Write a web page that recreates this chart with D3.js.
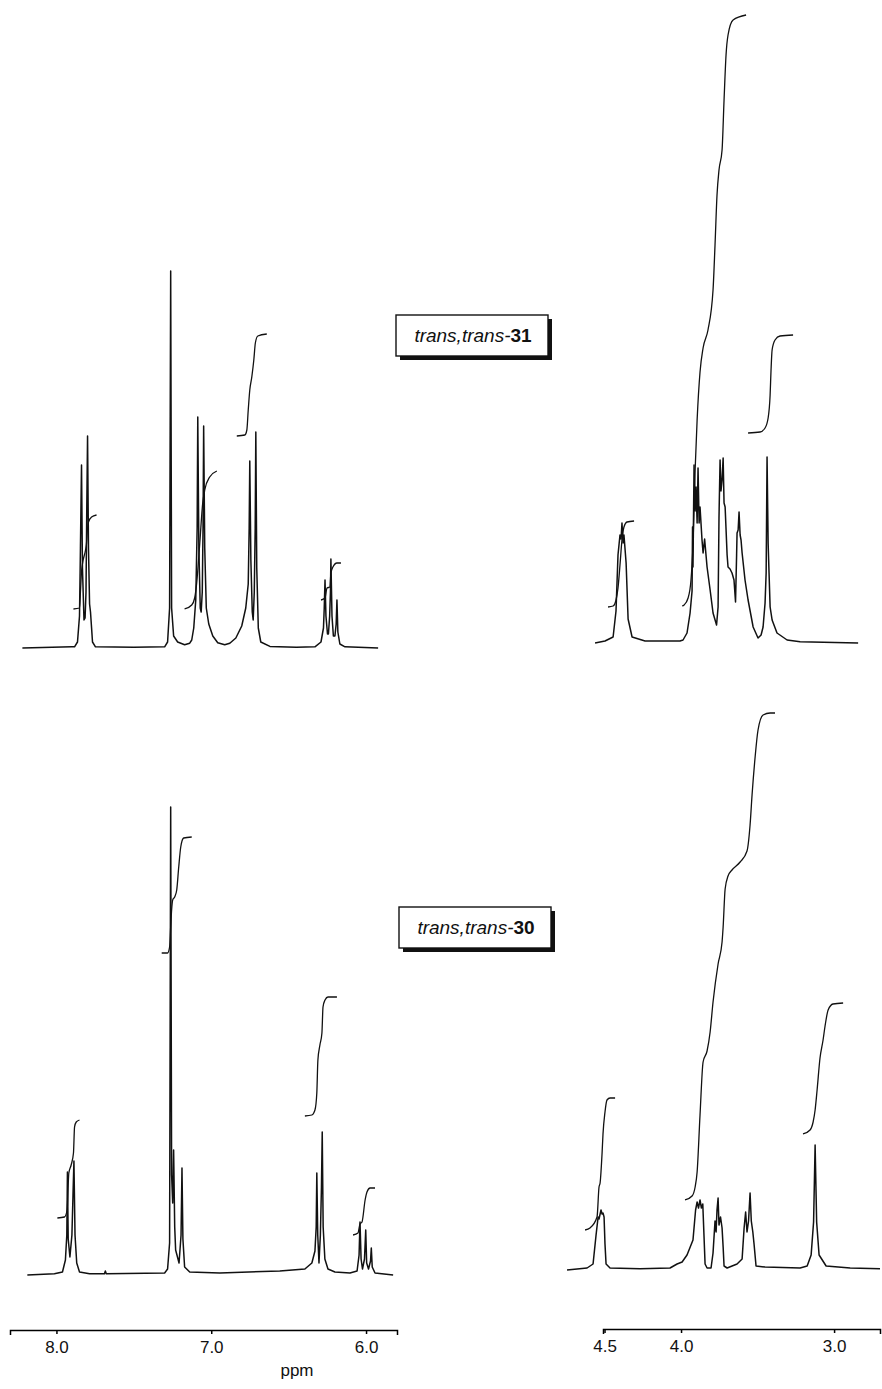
<!DOCTYPE html>
<html>
<head>
<meta charset="utf-8">
<script src="https://cdn.jsdelivr.net/npm/d3@7"></script>
<style>
    body { margin: 0; background: #fff; }
    .trace { fill: none; stroke: #111; stroke-width: 1.5; stroke-linejoin: round; }
    .integral { fill: none; stroke: #111; stroke-width: 1.3; }
</style>
</head>
<body>
<script>
//1H NMR spectra of trans,trans-31 (top) and trans,trans-30 (bottom)

//compound numbers for the label boxes
var compounds = ["31", "30"];

//tick labels, ppm
var leftTicks = [8.0, 7.0, 6.0];
var rightTicks = [4.5, 4.0, 3.0];

//spectrum traces: [ppm, intensity]
//31, aromatic region
var spec31Arom = [
    [8.220,0],[7.900,0.3],[7.883,0.3],[7.864,1.5],[7.851,8],[7.845,25],[7.838,45.75],[7.832,20],
    [7.822,7],[7.815,7.5],[7.809,14],[7.804,35],[7.799,53],[7.793,25],[7.786,11],[7.780,9],
    [7.773,5],[7.767,1.5],[7.748,0.3],[7.500,0.2],[7.301,0.3],[7.282,1.5],[7.269,10],[7.262,94.25],
    [7.256,10],[7.243,3],[7.217,1.5],[7.172,0.8],[7.139,1.2],[7.126,2],[7.113,5],[7.100,12],
    [7.091,30],[7.087,57.75],[7.080,25],[7.071,10],[7.065,9],[7.058,14],[7.053,30],[7.049,55.5],
    [7.042,25],[7.032,10],[7.016,6],[6.990,3],[6.958,1.3],[6.913,0.8],[6.880,1.2],[6.841,2.5],
    [6.803,5.5],[6.777,10],[6.761,16],[6.755,30],[6.751,46.75],[6.744,22],[6.735,9],[6.729,7],
    [6.722,14],[6.716,30],[6.712,54],[6.706,20],[6.696,5],[6.680,1.5],[6.621,0.4],[6.450,0.2],
    [6.330,0.3],[6.291,1.5],[6.275,5],[6.270,10],[6.265,17],[6.259,8],[6.249,3.5],[6.243,3.5],
    [6.235,8],[6.230,14],[6.227,22.25],[6.220,8],[6.211,3],[6.201,3],[6.193,6],[6.188,12],
    [6.182,4],[6.169,1],[6.136,0.3],[5.922,0]
];
//31, aliphatic region
var spec31Aliph = [
    [4.562,0],[4.497,0.5],[4.444,1.5],[4.425,8],[4.412,22],[4.399,27],[4.392,26],[4.386,30],
    [4.379,25],[4.373,27],[4.359,20],[4.346,6],[4.320,1.5],[4.235,0.5],[4.072,0.5],[4.007,0.5],
    [3.987,0.75],[3.961,2.5],[3.941,7.5],[3.928,13],[3.925,29],[3.922,19],[3.915,44.5],[3.908,33],
    [3.902,39],[3.895,30],[3.889,43.75],[3.882,30],[3.876,34],[3.863,25.75],[3.856,22.5],[3.846,26],
    [3.830,19],[3.810,13.25],[3.791,7.5],[3.768,4.5],[3.758,9],[3.752,31.5],[3.745,45.75],[3.739,38],
    [3.732,40.75],[3.725,46.25],[3.719,35],[3.712,34],[3.699,22],[3.693,19],[3.680,18.5],[3.667,17.5],
    [3.654,15.75],[3.644,10.25],[3.637,22],[3.634,27.5],[3.627,28.25],[3.621,32.75],[3.614,27],[3.608,25.75],
    [3.601,22.5],[3.582,15.75],[3.562,10.75],[3.529,4],[3.497,1.25],[3.477,2],[3.464,4],[3.451,10],
    [3.444,17.5],[3.438,46.5],[3.431,25],[3.425,17.5],[3.418,9],[3.405,5.75],[3.373,2.5],[3.307,0.75],
    [3.222,0.3],[2.843,0]
];
//30, aromatic region
var spec30Arom = [
    [8.188,0],[8.013,0.3],[7.961,0.75],[7.942,3.75],[7.933,10],[7.929,25.75],[7.924,9],[7.913,4.5],
    [7.900,10],[7.893,20],[7.887,28.5],[7.880,10],[7.869,3],[7.851,0.75],[7.786,0.3],[7.690,0.3],
    [7.684,1],[7.678,0.3],[7.301,0.5],[7.282,1.5],[7.269,8],[7.262,117],[7.256,25],[7.249,18],
    [7.243,31.25],[7.236,12],[7.230,6.25],[7.208,3],[7.195,10],[7.189,26.75],[7.183,9],[7.172,2],
    [7.139,0.75],[6.945,0.5],[6.557,1],[6.395,1.5],[6.350,3],[6.330,6],[6.322,12],[6.318,25.5],
    [6.312,10],[6.304,3],[6.295,10],[6.288,22],[6.283,35.75],[6.277,12],[6.266,4],[6.246,1.5],
    [6.201,0.75],[6.104,0.5],[6.058,1],[6.045,5],[6.039,13.25],[6.032,4],[6.023,1.5],[6.010,4],
    [6.002,11.25],[5.996,3],[5.984,1.5],[5.971,3.5],[5.966,6.75],[5.960,2],[5.942,0.5],[5.825,0]
];
//30, aliphatic region
var spec30Aliph = [
    [4.745,0],[4.614,0.5],[4.575,1.5],[4.556,8.5],[4.542,13.25],[4.536,12.75],[4.523,15],[4.516,14],
    [4.510,14.25],[4.503,13.25],[4.497,6.5],[4.490,1.5],[4.464,0.5],[4.268,0.3],[4.072,0.5],[4.026,1.5],
    [3.993,2],[3.961,3.75],[3.922,7.5],[3.905,15],[3.895,17],[3.886,15.5],[3.876,17.5],[3.867,15.5],
    [3.858,16.5],[3.850,8.5],[3.843,1.5],[3.830,0.5],[3.804,0.5],[3.791,4.25],[3.778,12.25],[3.771,9.5],
    [3.765,15],[3.758,18],[3.752,11.25],[3.742,13.25],[3.732,10.5],[3.725,5.75],[3.719,1],[3.699,0.5],
    [3.634,1.5],[3.601,2.75],[3.588,10.5],[3.578,14.5],[3.569,9.5],[3.559,12.25],[3.549,19.25],[3.541,12.25],
    [3.531,9.5],[3.523,6.5],[3.510,1],[3.451,0.75],[3.222,0.5],[3.176,1],[3.150,3.75],[3.134,12],
    [3.124,31.25],[3.114,12],[3.098,3.75],[3.052,1],[2.895,0.5],[2.700,0.3]
];

//integral curves: [ppm, level]
var int31Arom = [
    [[7.890,9.75],[7.851,10],[7.845,14],[7.838,19],[7.832,21],[7.812,24.5],[7.806,26],[7.799,30],[7.793,31.5],[7.773,32.75],[7.741,33.25]],
    [[7.172,9.75],[7.126,10.75],[7.107,12.5],[7.094,16.25],[7.074,26.25],[7.055,36.25],[7.042,39.5],[7.010,42.75],[6.964,44.25]],
    [[6.835,53],[6.783,53.25],[6.770,54.5],[6.761,59.5],[6.751,64.5],[6.738,67.75],[6.725,72],[6.715,76.25],[6.699,78],[6.641,78.5]],
    [[6.291,12],[6.265,12.5],[6.252,15],[6.233,15.25],[6.227,18.75],[6.214,20.25],[6.188,21.25],[6.162,21.25]]
];
var int31Aliph = [
    [[4.477,9],[4.444,9.25],[4.425,10.75],[4.412,13.75],[4.399,19.5],[4.386,25.75],[4.373,29],[4.353,30.25],[4.307,30.5]],
    [[3.993,9.25],[3.980,9.5],[3.954,11.25],[3.935,15.75],[3.922,24.5],[3.908,43.25],[3.895,55.75],[3.876,67.75],[3.856,73.75],
     [3.824,78.25],[3.791,88.25],[3.778,99.5],[3.765,112],[3.752,118.25],[3.732,123.25],[3.719,135.75],[3.706,147],[3.693,152],
     [3.660,155.75],[3.575,157]],
    [[3.562,52.5],[3.484,52.75],[3.451,53.75],[3.431,56.25],[3.418,62],[3.412,68.25],[3.405,73.25],[3.386,75.75],[3.353,76.75],[3.268,77]]
];
var int30Arom = [
    [[7.994,14.25],[7.948,14.5],[7.931,16.25],[7.920,25.5],[7.905,27.5],[7.890,30.5],[7.883,37],[7.872,38.25],[7.851,38.75]],
    [[7.320,80.5],[7.282,80.5],[7.269,82],[7.262,87],[7.256,91.25],[7.249,93.75],[7.236,94.5],[7.223,96.25],[7.210,102],[7.197,107],[7.178,109.25],[7.126,109.5]],
    [[6.395,39.75],[6.350,40],[6.330,41.25],[6.318,45.5],[6.311,53.75],[6.298,57.5],[6.285,60.5],[6.278,67],[6.265,68.75],[6.246,69.5],[6.188,69.5]],
    [[6.084,10],[6.052,10.5],[6.039,12.75],[6.026,13.25],[6.006,18.75],[5.994,20.75],[5.974,21.75],[5.942,21.75]]
];
var int30Aliph = [
    [[4.627,10],[4.595,10.5],[4.549,13.25],[4.536,20.75],[4.529,21.75],[4.516,29.25],[4.510,34],[4.497,39.5],[4.484,42.5],[4.464,43],[4.431,43]],
    [[3.974,17.5],[3.928,18.5],[3.908,20.75],[3.895,24.5],[3.876,38.75],[3.856,52],[3.830,54.75],[3.810,59.5],[3.791,67],[3.758,76.5],
     [3.732,82],[3.725,85.75],[3.712,95.25],[3.693,98.5],[3.667,100],[3.614,102],[3.569,104.75],[3.549,111.25],[3.536,118.75],
     [3.516,128.25],[3.497,135],[3.464,138.75],[3.418,139.25],[3.386,139.25]],
    [[3.203,34],[3.157,35],[3.137,37],[3.124,40],[3.111,45],[3.092,53],[3.072,57.5],[3.059,61],[3.039,65],[3.007,66.5],[2.941,66.75]]
];


window.onload = function(){

    var w = 882, h = 1389;
    var font = "'Liberation Sans', Arial, sans-serif";
    var svg = d3.select("body")
        .append("svg")
        .attr("width", w)
        .attr("height", h);

    //ppm scales, reversed like any NMR axis
    var xLeft = d3.scaleLinear()
        .domain([8.30, 5.80])
        .range([10, 397]);
    var xRight = d3.scaleLinear()
        .domain([4.51, 2.70])
        .range([603, 880]);

    //intensity scale for a panel sitting on a given baseline
    function yScale(base){
        return d3.scaleLinear().domain([0, 100]).range([base, base - 400]);
    }

    var panels = [
        {spec: spec31Arom, ints: int31Arom, x: xLeft, base: 648},
        {spec: spec31Aliph, ints: int31Aliph, x: xRight, base: 643},
        {spec: spec30Arom, ints: int30Arom, x: xLeft, base: 1275},
        {spec: spec30Aliph, ints: int30Aliph, x: xRight, base: 1270}
    ];

    panels.forEach(function(p){
        var y = yScale(p.base);

        var line = d3.line()
            .x(function(d){ return p.x(d[0]); })
            .y(function(d){ return y(d[1]); });

        svg.append("path")
            .datum(p.spec)
            .attr("class", "trace")
            .attr("d", line);

        //integral traces are smooth
        var intLine = d3.line()
            .x(function(d){ return p.x(d[0]); })
            .y(function(d){ return y(d[1]); })
            .curve(d3.curveMonotoneX);

        svg.selectAll(null)
            .data(p.ints)
            .enter()
            .append("path")
            .attr("class", "integral")
            .attr("d", intLine);
    });

    //ppm axes
    var fmt = d3.format(".1f");
    var axes = [
        {scale: xLeft, ticks: leftTicks, y: 1330},
        {scale: xRight, ticks: rightTicks, y: 1329}
    ];
    axes.forEach(function(a){
        var axis = d3.axisBottom(a.scale)
            .tickValues(a.ticks)
            .tickFormat(fmt)
            .tickSize(4)
            .tickSizeOuter(5)
            .tickPadding(7);
        var g = svg.append("g")
            .attr("transform", "translate(0," + a.y + ")")
            .call(axis)
            .attr("font-family", font)
            .attr("font-size", 17);
        g.selectAll("path, line").attr("stroke-width", 1.5);
        g.selectAll("text").attr("fill", "#111");
    });

    svg.append("text")
        .attr("x", 297)
        .attr("y", 1376)
        .attr("text-anchor", "middle")
        .attr("font-family", font)
        .attr("font-size", 17)
        .attr("fill", "#111")
        .text("ppm");

    //compound label boxes with drop shadow
    var boxPos = [[396, 315], [399, 907]];
    var boxW = 152, boxH = 41;

    compounds.forEach(function(c, i){
        var bx = boxPos[i][0], by = boxPos[i][1];
        var g = svg.append("g");
        g.append("rect")
            .attr("x", bx + 4).attr("y", by + 4)
            .attr("width", boxW).attr("height", boxH)
            .attr("fill", "#111");
        g.append("rect")
            .attr("x", bx).attr("y", by)
            .attr("width", boxW).attr("height", boxH)
            .attr("fill", "#fff")
            .attr("stroke", "#111")
            .attr("stroke-width", 1.4);
        var t = g.append("text")
            .attr("x", bx + boxW / 2 + 1)
            .attr("y", by + 27)
            .attr("text-anchor", "middle")
            .attr("font-family", font)
            .attr("font-size", 19)
            .attr("fill", "#111");
        t.append("tspan")
            .attr("font-style", "italic")
            .text("trans,trans-");
        t.append("tspan")
            .attr("font-weight", "bold")
            .text(c);
    });
};
</script>
</body>
</html>
